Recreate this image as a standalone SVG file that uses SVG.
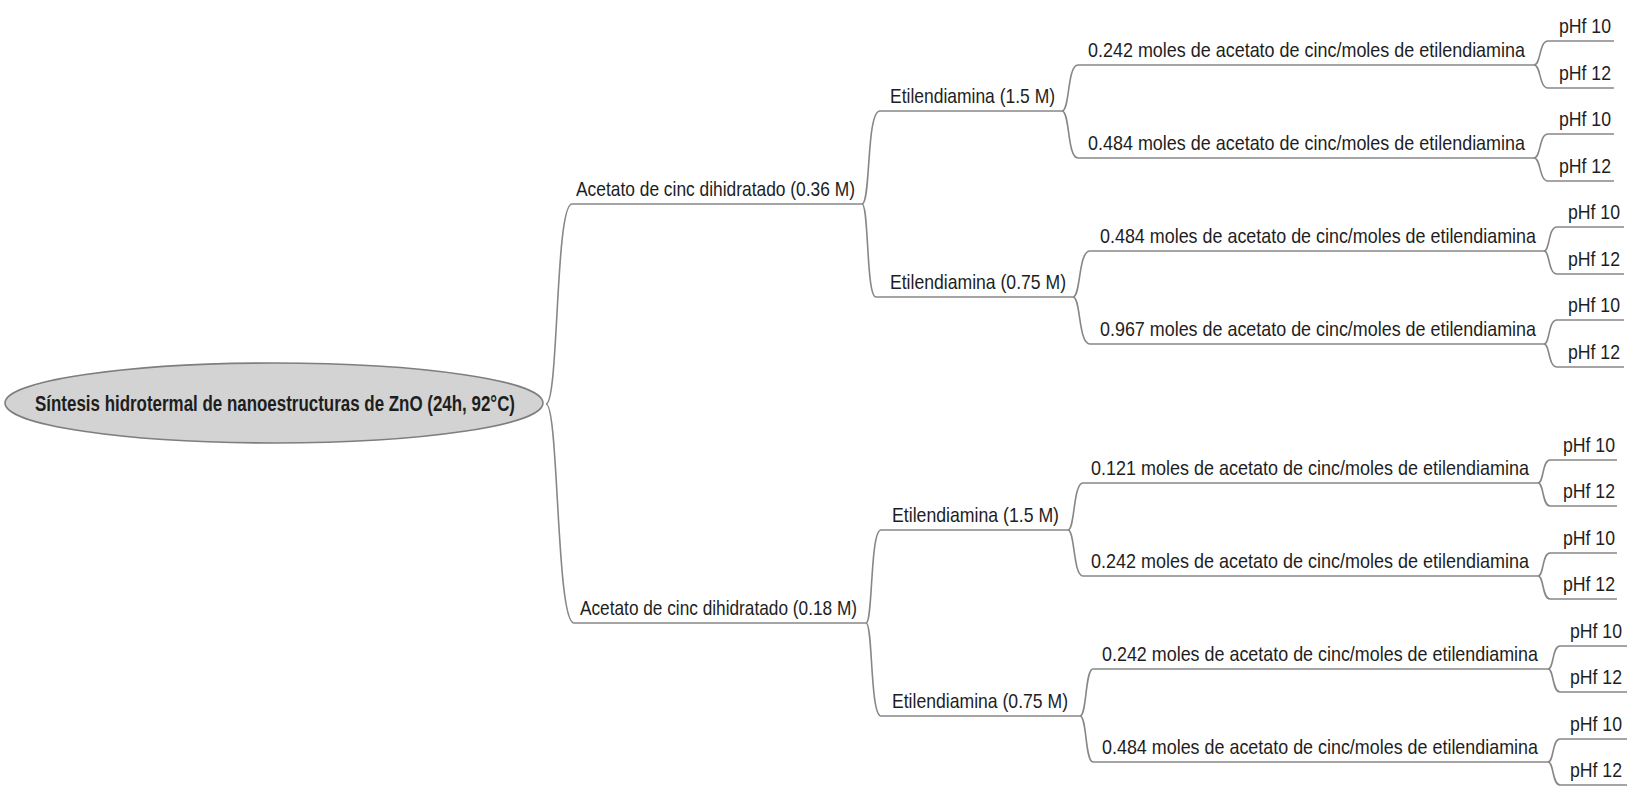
<svg xmlns="http://www.w3.org/2000/svg" width="1631" height="795" viewBox="0 0 1631 795">
  <style>
    .c { fill: none; stroke: #878787; stroke-width: 1.6; }
    .ul { stroke: #878787; stroke-width: 1.6; }
    text { font-family: "Liberation Sans Narrow", "Liberation Sans", Arial, sans-serif; font-size: 21px; fill: #1e1e1e; }
    .bold { font-weight: bold; font-size: 22px; }
    .hub { fill: #d3d3d3; stroke: #7e7e7e; stroke-width: 1.6; }
  </style>
  <rect x="0" y="0" width="1631" height="795" fill="#ffffff"/>

  <!-- curved branch connectors -->
  <g id="connectors">
    <path class="c" d="M546,404 C559,404 555,204 572,204"/>
    <path class="c" d="M546,404 C559,404 556,623 574,623"/>

    <path class="c" d="M862,204 C871,204 866,111 880,111"/>
    <path class="c" d="M862,204 C869,204 866,297 876,297"/>
    <path class="c" d="M866,623 C873,623 870,530 881,530"/>
    <path class="c" d="M866,623 C873,623 870,716 881,716"/>

    <path class="c" d="M1062,111 C1070,111 1067,65 1078,65"/>
    <path class="c" d="M1062,111 C1070,111 1067,158 1078,158"/>
    <path class="c" d="M1073,297 C1081,297 1078,251 1090,251"/>
    <path class="c" d="M1073,297 C1081,297 1078,344 1090,344"/>
    <path class="c" d="M1068,530 C1075,530 1073,483 1083,483"/>
    <path class="c" d="M1068,530 C1075,530 1073,576 1083,576"/>
    <path class="c" d="M1080,716 C1087,716 1085,669 1093,669"/>
    <path class="c" d="M1080,716 C1087,716 1085,762 1093,762"/>

    <path class="c" d="M1534,65 C1541,65 1539,41 1548,41"/>
    <path class="c" d="M1534,65 C1541,65 1539,88 1548,88"/>
    <path class="c" d="M1534,158 C1541,158 1539,134 1548,134"/>
    <path class="c" d="M1534,158 C1541,158 1539,181 1548,181"/>
    <path class="c" d="M1544,251 C1550,251 1548,227 1557,227"/>
    <path class="c" d="M1544,251 C1550,251 1548,274 1557,274"/>
    <path class="c" d="M1544,344 C1550,344 1548,320 1557,320"/>
    <path class="c" d="M1544,344 C1550,344 1548,367 1557,367"/>
    <path class="c" d="M1538,483 C1544,483 1542,460 1550,460"/>
    <path class="c" d="M1538,483 C1544,483 1542,506 1550,506"/>
    <path class="c" d="M1538,576 C1544,576 1542,553 1550,553"/>
    <path class="c" d="M1538,576 C1544,576 1542,599 1550,599"/>
    <path class="c" d="M1548,669 C1554,669 1552,646 1560,646"/>
    <path class="c" d="M1548,669 C1554,669 1552,692 1560,692"/>
    <path class="c" d="M1548,762 C1554,762 1552,739 1560,739"/>
    <path class="c" d="M1548,762 C1554,762 1552,785 1560,785"/>
  </g>

  <!-- central topic -->
  <g id="root">
    <ellipse class="hub" cx="274" cy="403" rx="269" ry="40"/>
    <text class="bold" x="275" y="411" text-anchor="middle" textLength="480" lengthAdjust="spacingAndGlyphs">Síntesis hidrotermal de nanoestructuras de ZnO (24h, 92°C)</text>
  </g>

  <!-- zinc acetate concentration -->
  <g id="acetato-036">
    <line class="ul" x1="572" y1="204" x2="862" y2="204"/>
    <text x="576" y="196" textLength="279" lengthAdjust="spacingAndGlyphs">Acetato de cinc dihidratado (0.36 M)</text>
  </g>
  <g id="acetato-018">
    <line class="ul" x1="574" y1="623" x2="866" y2="623"/>
    <text x="580" y="615" textLength="277" lengthAdjust="spacingAndGlyphs">Acetato de cinc dihidratado (0.18 M)</text>
  </g>

  <!-- ethylenediamine concentration -->
  <g id="etil-15-a">
    <line class="ul" x1="880" y1="111" x2="1062" y2="111"/>
    <text x="890" y="103" textLength="165" lengthAdjust="spacingAndGlyphs">Etilendiamina (1.5 M)</text>
  </g>
  <g id="etil-075-a">
    <line class="ul" x1="876" y1="297" x2="1073" y2="297"/>
    <text x="890" y="289" textLength="176" lengthAdjust="spacingAndGlyphs">Etilendiamina (0.75 M)</text>
  </g>
  <g id="etil-15-b">
    <line class="ul" x1="881" y1="530" x2="1068" y2="530"/>
    <text x="892" y="522" textLength="167" lengthAdjust="spacingAndGlyphs">Etilendiamina (1.5 M)</text>
  </g>
  <g id="etil-075-b">
    <line class="ul" x1="881" y1="716" x2="1080" y2="716"/>
    <text x="892" y="708" textLength="176" lengthAdjust="spacingAndGlyphs">Etilendiamina (0.75 M)</text>
  </g>

  <!-- molar ratios -->
  <g id="ratio-1">
    <line class="ul" x1="1078" y1="65" x2="1534" y2="65"/>
    <text x="1088" y="57" textLength="437" lengthAdjust="spacingAndGlyphs">0.242 moles de acetato de cinc/moles de etilendiamina</text>
  </g>
  <g id="ratio-2">
    <line class="ul" x1="1078" y1="158" x2="1534" y2="158"/>
    <text x="1088" y="150" textLength="437" lengthAdjust="spacingAndGlyphs">0.484 moles de acetato de cinc/moles de etilendiamina</text>
  </g>
  <g id="ratio-3">
    <line class="ul" x1="1090" y1="251" x2="1544" y2="251"/>
    <text x="1100" y="243" textLength="436" lengthAdjust="spacingAndGlyphs">0.484 moles de acetato de cinc/moles de etilendiamina</text>
  </g>
  <g id="ratio-4">
    <line class="ul" x1="1090" y1="344" x2="1544" y2="344"/>
    <text x="1100" y="336" textLength="436" lengthAdjust="spacingAndGlyphs">0.967 moles de acetato de cinc/moles de etilendiamina</text>
  </g>
  <g id="ratio-5">
    <line class="ul" x1="1083" y1="483" x2="1538" y2="483"/>
    <text x="1091" y="475" textLength="438" lengthAdjust="spacingAndGlyphs">0.121 moles de acetato de cinc/moles de etilendiamina</text>
  </g>
  <g id="ratio-6">
    <line class="ul" x1="1083" y1="576" x2="1538" y2="576"/>
    <text x="1091" y="568" textLength="438" lengthAdjust="spacingAndGlyphs">0.242 moles de acetato de cinc/moles de etilendiamina</text>
  </g>
  <g id="ratio-7">
    <line class="ul" x1="1093" y1="669" x2="1548" y2="669"/>
    <text x="1102" y="661" textLength="436" lengthAdjust="spacingAndGlyphs">0.242 moles de acetato de cinc/moles de etilendiamina</text>
  </g>
  <g id="ratio-8">
    <line class="ul" x1="1093" y1="762" x2="1548" y2="762"/>
    <text x="1102" y="754" textLength="436" lengthAdjust="spacingAndGlyphs">0.484 moles de acetato de cinc/moles de etilendiamina</text>
  </g>

  <!-- final pH leaves -->
  <g id="ph-1a"><line class="ul" x1="1548" y1="41" x2="1614" y2="41"/><text x="1559" y="33" textLength="52" lengthAdjust="spacingAndGlyphs">pHf 10</text></g>
  <g id="ph-1b"><line class="ul" x1="1548" y1="88" x2="1614" y2="88"/><text x="1559" y="80" textLength="52" lengthAdjust="spacingAndGlyphs">pHf 12</text></g>
  <g id="ph-2a"><line class="ul" x1="1548" y1="134" x2="1614" y2="134"/><text x="1559" y="126" textLength="52" lengthAdjust="spacingAndGlyphs">pHf 10</text></g>
  <g id="ph-2b"><line class="ul" x1="1548" y1="181" x2="1614" y2="181"/><text x="1559" y="173" textLength="52" lengthAdjust="spacingAndGlyphs">pHf 12</text></g>
  <g id="ph-3a"><line class="ul" x1="1557" y1="227" x2="1624" y2="227"/><text x="1568" y="219" textLength="52" lengthAdjust="spacingAndGlyphs">pHf 10</text></g>
  <g id="ph-3b"><line class="ul" x1="1557" y1="274" x2="1624" y2="274"/><text x="1568" y="266" textLength="52" lengthAdjust="spacingAndGlyphs">pHf 12</text></g>
  <g id="ph-4a"><line class="ul" x1="1557" y1="320" x2="1624" y2="320"/><text x="1568" y="312" textLength="52" lengthAdjust="spacingAndGlyphs">pHf 10</text></g>
  <g id="ph-4b"><line class="ul" x1="1557" y1="367" x2="1624" y2="367"/><text x="1568" y="359" textLength="52" lengthAdjust="spacingAndGlyphs">pHf 12</text></g>
  <g id="ph-5a"><line class="ul" x1="1550" y1="460" x2="1617" y2="460"/><text x="1563" y="452" textLength="52" lengthAdjust="spacingAndGlyphs">pHf 10</text></g>
  <g id="ph-5b"><line class="ul" x1="1550" y1="506" x2="1617" y2="506"/><text x="1563" y="498" textLength="52" lengthAdjust="spacingAndGlyphs">pHf 12</text></g>
  <g id="ph-6a"><line class="ul" x1="1550" y1="553" x2="1617" y2="553"/><text x="1563" y="545" textLength="52" lengthAdjust="spacingAndGlyphs">pHf 10</text></g>
  <g id="ph-6b"><line class="ul" x1="1550" y1="599" x2="1617" y2="599"/><text x="1563" y="591" textLength="52" lengthAdjust="spacingAndGlyphs">pHf 12</text></g>
  <g id="ph-7a"><line class="ul" x1="1560" y1="646" x2="1627" y2="646"/><text x="1570" y="638" textLength="52" lengthAdjust="spacingAndGlyphs">pHf 10</text></g>
  <g id="ph-7b"><line class="ul" x1="1560" y1="692" x2="1627" y2="692"/><text x="1570" y="684" textLength="52" lengthAdjust="spacingAndGlyphs">pHf 12</text></g>
  <g id="ph-8a"><line class="ul" x1="1560" y1="739" x2="1627" y2="739"/><text x="1570" y="731" textLength="52" lengthAdjust="spacingAndGlyphs">pHf 10</text></g>
  <g id="ph-8b"><line class="ul" x1="1560" y1="785" x2="1627" y2="785"/><text x="1570" y="777" textLength="52" lengthAdjust="spacingAndGlyphs">pHf 12</text></g>
</svg>
